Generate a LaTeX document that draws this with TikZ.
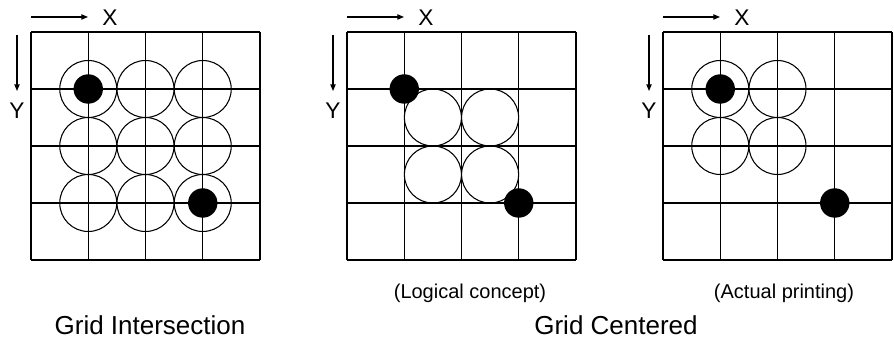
\documentclass[tikz,border=0pt]{standalone}
\usepackage{fontspec}
\setmainfont{Liberation Sans}
\usetikzlibrary{arrows.meta, positioning}

\begin{document}
\begin{tikzpicture}[
    x=0.75pt, y=-0.75pt,
    gridline/.style={line width=0.8pt, draw=black},
    ring/.style={line width=0.8pt, draw=black},
    dot/.style={fill=black},
    axis/.style={-{Triangle[length=5pt, width=4pt]}, line width=0.8pt},
    axislabel/.style={font=\fontsize{17}{20}\selectfont, inner sep=0pt},
    caption/.style={font=\fontsize{15}{18}\selectfont, inner sep=0pt},
    title/.style={font=\fontsize{19.5}{23}\selectfont, inner sep=0pt},
]
\useasboundingbox (0,0) rectangle (894,338);

% three 4x4 grids with their axes
\foreach \gx/\p in {31/a, 347/b, 663/c} {
    \foreach \i in {0,...,4} {
        \draw[gridline] (\gx+\i*57.25, 32) -- (\gx+\i*57.25, 260);
        \draw[gridline] (\gx, 32+\i*57) -- (\gx+229, 32+\i*57);
    }
    \coordinate (xs\p) at (\gx, 17);
    \coordinate (xe\p) at (\gx+57, 17);
    \coordinate (ys\p) at (\gx-14, 35);
    \coordinate (ye\p) at (\gx-14, 91);
    \draw[axis] (xs\p) -- (xe\p);
    \draw[axis] (ys\p) -- (ye\p);
    \node[axislabel] (xl\p) at (\gx+79, 18) {X};
    \node[axislabel] (yl\p) at (\gx-14, 111) {Y};
}

% grid intersection
\foreach \cx in {88.25, 145.5, 202.75} {
    \foreach \cy in {89, 146, 203} {
        \draw[ring] (\cx, \cy) circle (28.5);
    }
}
\fill[dot] (88.25, 89) circle (14.7);
\fill[dot] (202.75, 203) circle (14.7);

% grid centered, logical concept
\foreach \cx in {432.9, 490.1} {
    \foreach \cy in {117.5, 174.5} {
        \draw[ring] (\cx, \cy) circle (28.5);
    }
}
\fill[dot] (404.25, 89) circle (14.7);
\fill[dot] (518.75, 203) circle (14.7);

% grid centered, actual printing
\foreach \cx in {720.25, 777.5} {
    \foreach \cy in {89, 146} {
        \draw[ring] (\cx, \cy) circle (28.5);
    }
}
\fill[dot] (720.25, 89) circle (14.7);
\fill[dot] (834.75, 203) circle (14.7);

\node[caption] (logical) at (470, 293) {(Logical concept)};
\node[caption] (actual) at (784, 293) {(Actual printing)};
\node[title] (gridint) at (150, 325) {Grid Intersection};
\node[title] (gridcen) at (616, 325) {Grid Centered};

\end{tikzpicture}
\end{document}
